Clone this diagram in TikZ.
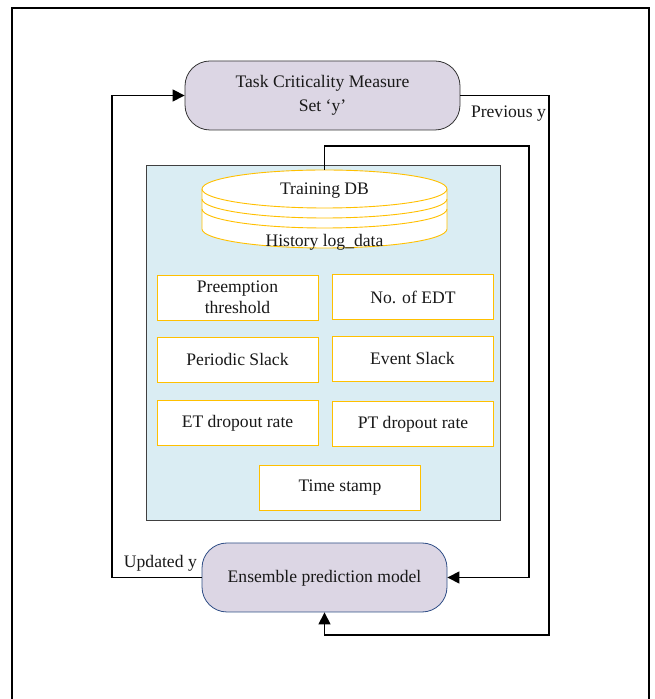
\documentclass[tikz,border=0pt]{standalone}
\usepackage{fontspec}
\setmainfont{Liberation Serif}
\usetikzlibrary{arrows.meta, positioning}
\definecolor{term}{HTML}{DCD6E4}
\definecolor{panel}{HTML}{DAEDF3}
\definecolor{feat}{HTML}{FFC000}
\definecolor{model}{HTML}{2F4E86}

\begin{document}
\begin{tikzpicture}[
    x = 1pt, y = 1pt,
    > = {Triangle[length=12pt, width=12pt]},
    every node/.style = {font=\fontsize{17.6}{21}\selectfont, text=black!90},
    termbox/.style  = {draw=black!80, fill=term, rounded corners=25pt, thick,
                       align=center, minimum height=69pt, inner sep=0pt},
    featbox/.style  = {draw=feat, fill=white, line width=0.9pt, align=center,
                       minimum width=161pt, minimum height=45pt, inner sep=0pt},
    dbline/.style   = {draw=feat, line width=0.9pt},
    flow/.style     = {->, line width=1.2pt, draw=black},
    lbl/.style      = {inner sep=1pt},
]
\useasboundingbox (0,0) rectangle (655,699);

% -------------------------------------------- frame ---------------------------------------------
\draw[line width=1.6pt] (12,0) -- (12,691) -- (649,691) -- (649,0);

% ------------------------------------------- terminals --------------------------------------------
\node[termbox, minimum width=275pt, text depth=4pt] (crit) at (322.5,603.5)
    {Task Criticality Measure\\[3pt]Set `y'};
\node[termbox, draw=model, minimum width=245pt, text depth=2pt] (ens) at (324.5,121.5)
    {Ensemble prediction model};

% --------------------------------------------- panel ----------------------------------------------
\node[draw=black!75, fill=panel, thick, minimum width=354pt, minimum height=355pt,
      inner sep=0pt] (data) at (323,356.5) {};

% -------------------------------------------- database --------------------------------------------
\fill[white] (202,510) -- (202,470) arc[start angle=180, end angle=360, x radius=122.5pt, y radius=19pt]
    -- (447,510) arc[start angle=0, end angle=180, x radius=122.5pt, y radius=19pt] -- cycle;
\draw[dbline] (324.5,510) ellipse[x radius=122.5pt, y radius=19pt];
\draw[dbline] (202,500) arc[start angle=180, end angle=360, x radius=122.5pt, y radius=19pt];
\draw[dbline] (202,490) arc[start angle=180, end angle=360, x radius=122.5pt, y radius=19pt];
\draw[dbline] (202,510) -- (202,470) arc[start angle=180, end angle=360, x radius=122.5pt, y radius=19pt]
    -- (447,510);
\node (db)  at (324.5,508) {Training DB};
\node (log) at (324.5,457) {History log\_data};
\coordinate (dbtop) at (324.5,529);

% -------------------------------------------- features --------------------------------------------
\node[featbox] (pre)    at (237.5,401.5) {Preemption\\threshold};
\node[featbox] (edt)    at (413,402)     {No. of EDT};
\node[featbox] (pslack) at (237.5,339.5) {Periodic Slack};
\node[featbox] (eslack) at (412.5,340.5) {Event Slack};
\node[featbox] (etdrop) at (237.5,276)   {ET dropout rate};
\node[featbox] (ptdrop) at (413,275)     {PT dropout rate};
\node[featbox] (stamp)  at (340,211)     {Time stamp};

% --------------------------------------------- arrows ---------------------------------------------
\draw[flow] (dbtop) |- (529,553) |- (ens.east);
\draw[flow] (crit.east) -| (549,64) -| (ens.south);
\draw[flow] (ens.west) -| (112,603.5) -- (crit.west);

% --------------------------------------------- labels ---------------------------------------------
\node[lbl, anchor=east] (prev) at (547,585) {Previous y};
\node[lbl, anchor=east] (upd)  at (198,136) {Updated y};

\end{tikzpicture}
\end{document}
